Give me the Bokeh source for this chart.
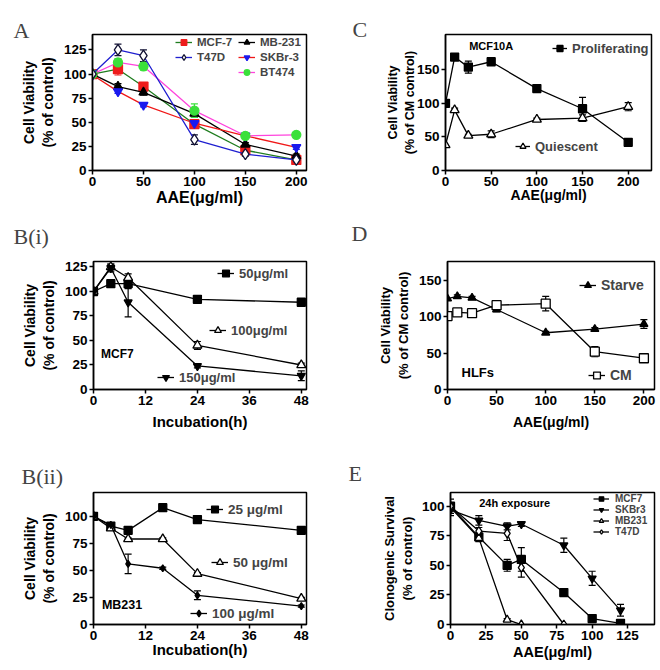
# six-panel viability figure (A, B(i), B(ii), C, D, E) in bokeh
import numpy as np
from bokeh.plotting import figure
from bokeh.models import (Range1d, Label, Legend, LegendItem, Whisker,
                          ColumnDataSource, TeeHead, Title)
from bokeh.layouts import column, row
from bokeh.embed import file_html
from bokeh.resources import INLINE

# ---- panel A: dose response, 5 cell lines
dose_A = [0, 25, 50, 100, 150, 200]
mcf7_A = [100, 105, 87, 48, 21, 11]
mcf7_A_err = [0, 6, 3, 4, 3, 2]
mb231_A = [100, 87, 81, 59, 27, 15]
mb231_A_err = [0, 3, 3, 4, 2, 2]
t47d_A = [100, 125, 119, 32, 17, 11]
t47d_A_err = [0, 6, 6, 5, 2, 2]
skbr3_A = [99, 82, 68, 49, 36, 24]
skbr3_A_err = [0, 2, 2, 3, 2, 2]
bt474_A = [100, 112, 108, 62, 36, 37]
bt474_A_err = [0, 4, 4, 7, 2, 2]

# ---- panel B(i): MCF7 time course
time_Bi = [0, 4, 8, 24, 48]
bi_50 = [100, 108, 108, 92, 89]
bi_50_err = [0, 2, 5, 2, 1]
bi_100 = [100, 125, 114, 45, 25]
bi_100_err = [0, 3, 4, 4, 2]
bi_150 = [100, 124, 89, 24, 14]
bi_150_err = [0, 4, 15, 2, 5]

# ---- panel B(ii): MB231 time course
time_Bii = [0, 4, 8, 16, 24, 48]
bii_25 = [100, 91, 87, 108, 97, 87]
bii_25_err = [0, 1, 1, 1, 1, 1]
bii_50 = [100, 89, 79, 79, 47, 24]
bii_50_err = [0, 1, 1, 1, 1, 1]
bii_100 = [100, 92, 56, 52, 27, 17]
bii_100_err = [0, 1, 9, 1, 4, 1]

# ---- panel C: MCF10A
dose_C = [0, 10, 25, 50, 100, 150, 200]
prolif_C = [100, 169, 154, 162, 122, 92, 42]
prolif_C_err = [0, 5, 9, 3, 2, 17, 2]
quies_C = [38, 90, 52, 54, 76, 78, 95]
quies_C_err = [0, 3, 2, 5, 2, 5, 6]

# ---- panel D: HLFs
dose_D = [0, 10, 25, 50, 100, 150, 200]
starve_D = [125, 128, 126, 110, 78, 83, 90]
starve_D_err = [0, 2, 2, 3, 2, 2, 6]
cm_D = [101, 106, 105, 116, 118, 52, 43]
cm_D_err = [0, 3, 2, 3, 10, 7, 3]

# ---- panel E: clonogenic survival
dose_E = [0, 20, 40, 50, 80, 100, 120]
mcf7_E = [100, 74, 50, 55, 27, 5, 1]
mcf7_E_err = [3, 3, 5, 10, 2, 2, 1]
skbr3_E = [97, 88, 83, 85, 67, 39, 12]
skbr3_E_err = [3, 4, 3, 2, 6, 6, 5]
dose_E_mb = [0, 20, 40, 50]
mb231_E = [99, 73, 4, 0]
mb231_E_err = [7, 3, 1, 0]
dose_E_t47 = [0, 20, 40, 50, 80]
t47d_E = [100, 79, 77, 48, 0]
t47d_E_err = [3, 3, 6, 8, 0]

SANS = "Liberation Sans"
SERIF = "Liberation Serif"
MU = "\u03bc"


def make_fig(w, h, left, right, top, bottom, xr, yr, xticks, yticks,
             xlab, xsize, xstand, ylab, ysize, ystand, letter, loff, lstand, gap=0):
    p = figure(width=w, height=h, min_border_left=left, min_border_right=right,
               min_border_top=top, min_border_bottom=bottom,
               x_range=Range1d(*xr), y_range=Range1d(*yr),
               output_backend="svg", toolbar_location=None)
    p.xgrid.grid_line_color = None
    p.ygrid.grid_line_color = None
    p.outline_line_color = "black"
    p.outline_line_width = 1.5
    p.outline_line_alpha = 1
    p.xaxis.ticker = xticks
    p.yaxis.ticker = yticks
    for ax in (p.xaxis, p.yaxis):
        ax.axis_line_width = 1.5
        ax.major_tick_line_width = 1.5
        ax.major_tick_out = 4
        ax.major_tick_in = 0
        ax.minor_tick_line_color = None
        ax.major_label_standoff = 2
        ax.major_label_text_font = SANS
        ax.major_label_text_font_style = "bold"
        ax.major_label_text_font_size = "13.5px"
        ax.major_label_text_color = "black"
        ax.axis_label_text_font = SANS
        ax.axis_label_text_font_style = "bold"
        ax.axis_label_text_color = "black"
    p.xaxis.axis_label = xlab
    p.xaxis.axis_label_text_font_size = xsize
    p.xaxis.axis_label_standoff = xstand
    p.yaxis.axis_label = ylab
    p.yaxis.axis_label_text_font_size = ysize
    p.yaxis.axis_label_standoff = ystand
    # panel letter: a title above the frame, lifted by an empty spacer title if needed
    if gap > 0:
        p.add_layout(Title(text=" ", text_font_size="2px", standoff=gap), "above")
    p.add_layout(Title(text=letter, text_font=SERIF, text_font_style="normal",
                       text_font_size="22px", align="left", offset=loff,
                       standoff=lstand, vertical_align="bottom"), "above")
    return p


def text(p, x, y, s, size):
    p.add_layout(Label(x=x, y=y, text=s, text_align="center", text_baseline="middle",
                       text_font=SANS, text_font_style="bold", text_font_size=size,
                       text_color="black"))


def series(p, x, y, err, lc, marker, size, fill, edge, ec=None):
    rl = p.line(x, y, line_color=lc, line_width=1.3)
    rm = p.scatter(x, y, marker=marker, size=size, fill_color=fill,
                   line_color=edge, line_width=1.3)
    keep = [i for i in range(len(x)) if err[i] > 0]
    if keep:
        ec = ec or edge
        src = ColumnDataSource(dict(base=[x[i] for i in keep],
                                    upper=[y[i] + err[i] for i in keep],
                                    lower=[y[i] - err[i] for i in keep]))
        p.add_layout(Whisker(base="base", upper="upper", lower="lower", source=src,
                             line_color=ec, line_width=1.2,
                             upper_head=TeeHead(size=7, line_color=ec, line_width=1.2),
                             lower_head=TeeHead(size=7, line_color=ec, line_width=1.2)))
    return [rl, rm]


def legend(p, pairs, loc, size, gw=17, gh=20, lh=20, spacing=0, standoff=5):
    items = [LegendItem(label=lab, renderers=rs) for lab, rs in pairs]
    p.add_layout(Legend(items=items, location=loc, border_line_color=None,
                        background_fill_alpha=0, padding=0, margin=0, spacing=spacing,
                        glyph_width=gw, glyph_height=gh, label_height=lh,
                        label_standoff=standoff, label_text_font=SANS,
                        label_text_font_style="bold", label_text_font_size=size))


# ================= A
pA = make_fig(330, 211, 92, 24, 33, 40, (0, 210), (0, 141),
              [0, 50, 100, 150, 200], [0, 25, 50, 75, 100, 125],
              f"AAE({MU}g/ml)", "16px", 0, "Cell Viability\n(% of control)", "14px", 5,
              "A", -79, -16)
r_mcf = series(pA, dose_A, mcf7_A, mcf7_A_err, "#1f7d1f", "square", 9, "#ee1c1c", "#ee1c1c")
r_mb = series(pA, dose_A, mb231_A, mb231_A_err, "black", "triangle", 9, "black", "black")
r_skb = series(pA, dose_A, skbr3_A, skbr3_A_err, "#f01818", "inverted_triangle", 9, "#1a1aee", "#1a1aee")
r_bt = series(pA, dose_A, bt474_A, bt474_A_err, "#ff44dd", "circle", 9, "#3ae03a", "#3ae03a")
r_t47 = series(pA, dose_A, t47d_A, t47d_A_err, "#1f1fd0", "diamond", 11, "white", "#111133")
legend(pA, [("MCF-7", r_mcf), ("T47D", r_t47)], (83, 106), "11.5px", gh=14, lh=14, spacing=1)
legend(pA, [("MB-231", r_mb), ("SKBr-3", r_skb), ("BT474", r_bt)], (146, 91), "11.5px",
       gh=14, lh=14, spacing=1)

# ================= C
pC = make_fig(328, 211, 115, 7, 34, 41, (0, 225.5), (0, 202.6),
              [0, 50, 100, 150, 200], [0, 50, 100, 150],
              f"AAE({MU}g/ml)", "14px", -2, "Cell Viability\n(% of CM control)", "12.5px", -3,
              "C", -93, -15)
r_pro = series(pC, dose_C, prolif_C, prolif_C_err, "black", "square", 8, "black", "black")
r_qui = series(pC, dose_C, quies_C, quies_C_err, "black", "triangle", 9, "white", "black")
legend(pC, [("Proliferating", r_pro)], (107, 112), "13px", gw=15)
legend(pC, [("Quiescent", r_qui)], (70, 14), "13px", gw=15)
text(pC, 50, 186, "MCF10A", "11px")

# ================= B(i)
pBi = make_fig(330, 229, 93, 24, 45, 51, (0, 49.2), (0, 130.6),
               [0, 12, 24, 36, 48], [0, 25, 50, 75, 100, 125],
               "Incubation(h)", "15px", 5, "Cell Viability\n(% of control)", "14px", 5,
               "B(i)", -80, 0, gap=9)
r_50 = series(pBi, time_Bi, bi_50, bi_50_err, "black", "square", 8, "black", "black")
r_100 = series(pBi, time_Bi, bi_100, bi_100_err, "black", "triangle", 9, "white", "black")
r_150 = series(pBi, time_Bi, bi_150, bi_150_err, "black", "inverted_triangle", 8, "black", "black")
legend(pBi, [(f"50{MU}g/ml", r_50)], (124, 106), "13px")
legend(pBi, [(f"100{MU}g/ml", r_100)], (116, 49), "13px")
legend(pBi, [(f"150{MU}g/ml", r_150)], (64, 2), "13px")
text(pBi, 5.5, 36, "MCF7", "12px")

# ================= D
pD = make_fig(328, 229, 117, 4, 50, 46, (0, 210.8), (0, 176),
              [0, 50, 100, 150, 200], [0, 50, 100, 150],
              f"AAE({MU}g/ml)", "14px", 6, "Cell Viability\n(% of CM control)", "13px", 5,
              "D", -96, 0, gap=12)
r_st = series(pD, dose_D, starve_D, starve_D_err, "black", "triangle", 8, "black", "black")
r_cm = series(pD, dose_D, cm_D, cm_D_err, "black", "square", 9, "white", "black")
legend(pD, [("Starve", r_st)], (132, 94), "14px")
legend(pD, [("CM", r_cm)], (141, 4), "14px")
text(pD, 30.8, 24, "HLFs", "13px")

# ================= B(ii)
pBii = make_fig(330, 228, 93, 24, 52, 42, (0, 49.2), (0, 122),
                [0, 12, 24, 36, 48], [0, 25, 50, 75, 100],
                "Incubation(h)", "15px", -2, "Cell Viability\n(% of control)", "14px", 5,
                "B(ii)", -72, 7)
r_25 = series(pBii, time_Bii, bii_25, bii_25_err, "black", "square", 8, "black", "black")
r_b50 = series(pBii, time_Bii, bii_50, bii_50_err, "black", "triangle", 9, "white", "black")
r_b100 = series(pBii, time_Bii, bii_100, bii_100_err, "black", "diamond", 7, "black", "black")
legend(pBii, [(f"25 {MU}g/ml", r_25)], (113, 105), "13.5px")
legend(pBii, [(f"50 {MU}g/ml", r_b50)], (118, 52), "13.5px")
legend(pBii, [(f"100 {MU}g/ml", r_b100)], (97, 1), "13.5px")
text(pBii, 6.6, 18, "MB231", "12.5px")

# ================= E
pE = make_fig(328, 228, 120, 4, 49, 44, (0, 144), (0, 111.6),
              [0, 25, 50, 75, 100, 125], [0, 25, 50, 75, 100],
              f"AAE({MU}g/ml)", "14.5px", 1, "Clonogenic Survival\n(% of control)", "13px", 4,
              "E", -102, 14)
r_em = series(pE, dose_E, mcf7_E, mcf7_E_err, "black", "square", 8, "black", "black")
r_es = series(pE, dose_E, skbr3_E, skbr3_E_err, "black", "inverted_triangle", 8, "black", "black")
r_eb = series(pE, dose_E_mb, mb231_E, mb231_E_err, "black", "triangle", 8, "white", "black")
r_et = series(pE, dose_E_t47, t47d_E, t47d_E_err, "black", "diamond", 9, "white", "black")
legend(pE, [("MCF7", r_em), ("SKBr3", r_es), ("MB231", r_eb), ("T47D", r_et)],
       (143, 87), "10px", gw=16, gh=11, lh=11, standoff=6)
text(pE, 45.3, 102.7, "24h exposure", "11px")

layout = column(row(pA, pC), row(pBi, pD), row(pBii, pE))
open("out.html", "w").write(file_html(layout, INLINE))
